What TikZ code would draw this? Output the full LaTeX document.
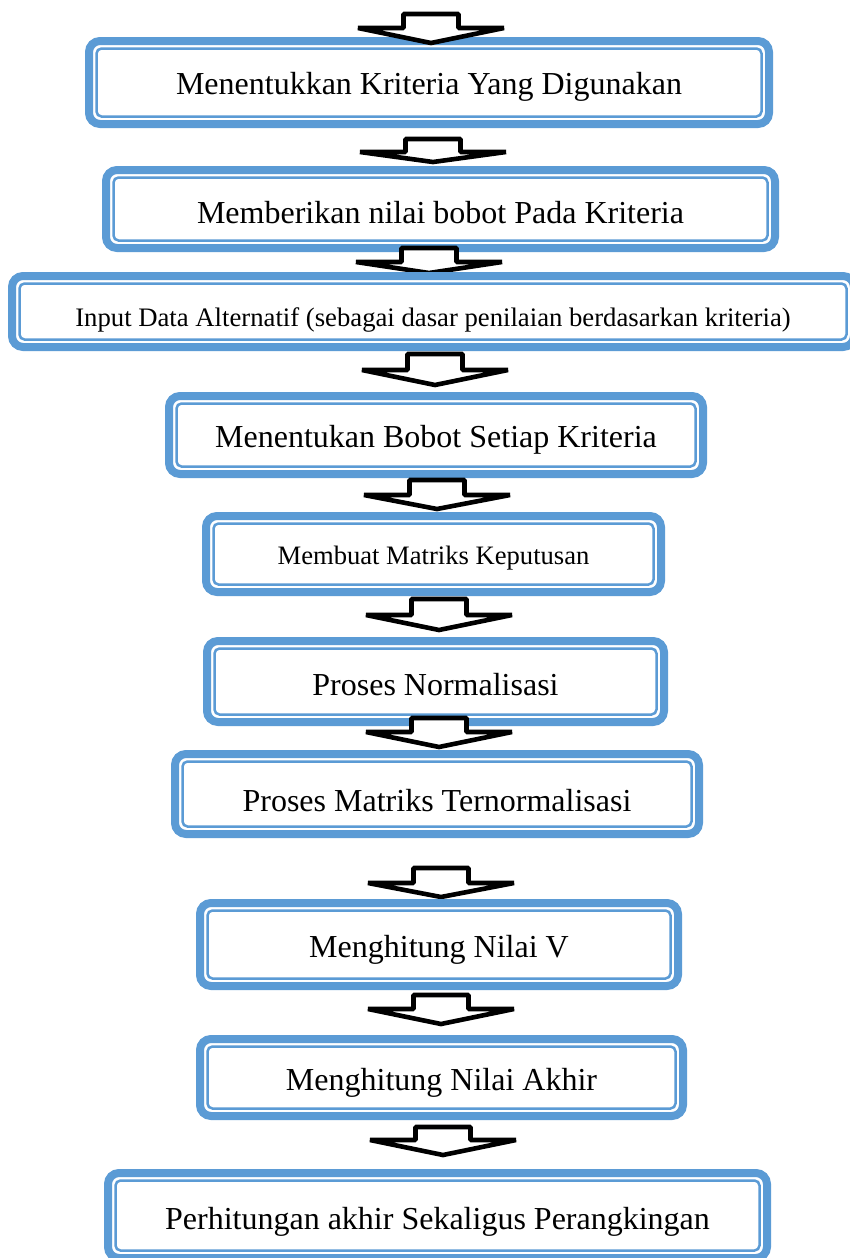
\documentclass[tikz,border=0pt]{standalone}
\usepackage{fontspec}
\setmainfont{Liberation Serif}
\definecolor{boxblue}{HTML}{5B9BD5}
\tikzset{
  flowbox/.style={draw=boxblue, line width=8pt, rounded corners=11pt, fill=white,
    inner sep=0pt, outer sep=0pt, align=center, text=black,
    font=\fontsize{32}{36}\selectfont},
  innerline/.style={draw=boxblue, line width=2.5pt, rounded corners=5pt},
  blockarr/.style={draw=black, fill=white, line width=4.6pt, line join=bevel},
}
\newcommand\blkarrow[4]{%
  \draw[blockarr] ({#1-27.5},{#2+2}) -- ({#1+27.5},{#2+2}) -- ({#1+27.5},{#3+2})
    -- ({#1+73},{#3+2}) -- ({#1},{#4-2}) -- ({#1-73},{#3+2}) -- ({#1-27.5},{#3+2}) -- cycle;}
\newcommand\flowbox[8]{% name, x1,y1,x2,y2, font size, text shift, text
  \node[flowbox, font=\fontsize{#6}{#6}\selectfont,
    minimum width={#4-#2-8pt}, minimum height={#5-#3-8pt}]
    (#1) at ({(#2+#4)/2},{(#3+#5)/2}) {\raisebox{-#7pt}[\height][\depth]{#8}};
  \draw[innerline] ([xshift=7.5pt,yshift=-7.5pt]#1.north west) rectangle ([xshift=-7.5pt,yshift=7.5pt]#1.south east);}
\begin{document}
\begin{tikzpicture}[x=1pt,y=-1pt]
\useasboundingbox (0,0) rectangle (850,1258);
\clip (0,0) rectangle (850,1258);
\fill[white] (0,0) rectangle (850,1258);
\flowbox{b1}{85}{37}{773}{128}{32}{4}{Menentukkan Kriteria Yang Digunakan}
\blkarrow{431}{12}{26}{45}
\blkarrow{433}{137}{150}{164}
\flowbox{b2}{102}{166}{779}{252}{32}{4}{Memberikan nilai bobot Pada Kriteria}
\blkarrow{429}{246}{260}{275}
\flowbox{b3}{8}{272}{858}{351}{26.7}{8}{Input Data Alternatif (sebagai dasar penilaian berdasarkan kriteria)}
\blkarrow{435}{352}{368}{387}
\flowbox{b4}{165}{392}{707}{478}{32}{5}{Menentukan Bobot Setiap Kriteria}
\blkarrow{437}{478}{493}{511}
\flowbox{b5}{202}{512}{665}{596}{26.6}{4}{Membuat Matriks Keputusan}
\blkarrow{439}{597}{613}{632}
\flowbox{b6}{203}{637}{668}{726}{32}{3}{Proses Normalisasi}
\blkarrow{439}{716}{730}{749}
\flowbox{b7}{171}{750}{703}{838}{32}{7}{Proses Matriks Ternormalisasi}
\blkarrow{441}{866}{881}{899}
\flowbox{b8}{196}{899}{682}{990}{32}{5}{Menghitung Nilai V}
\blkarrow{441}{993}{1007}{1026}
\flowbox{b9}{196}{1035}{687}{1120}{32}{5}{Menghitung Nilai Akhir}
\blkarrow{443}{1125}{1138}{1157}
\flowbox{b10}{104}{1169}{771}{1262}{32}{6}{Perhitungan akhir Sekaligus Perangkingan}
\end{tikzpicture}
\end{document}
